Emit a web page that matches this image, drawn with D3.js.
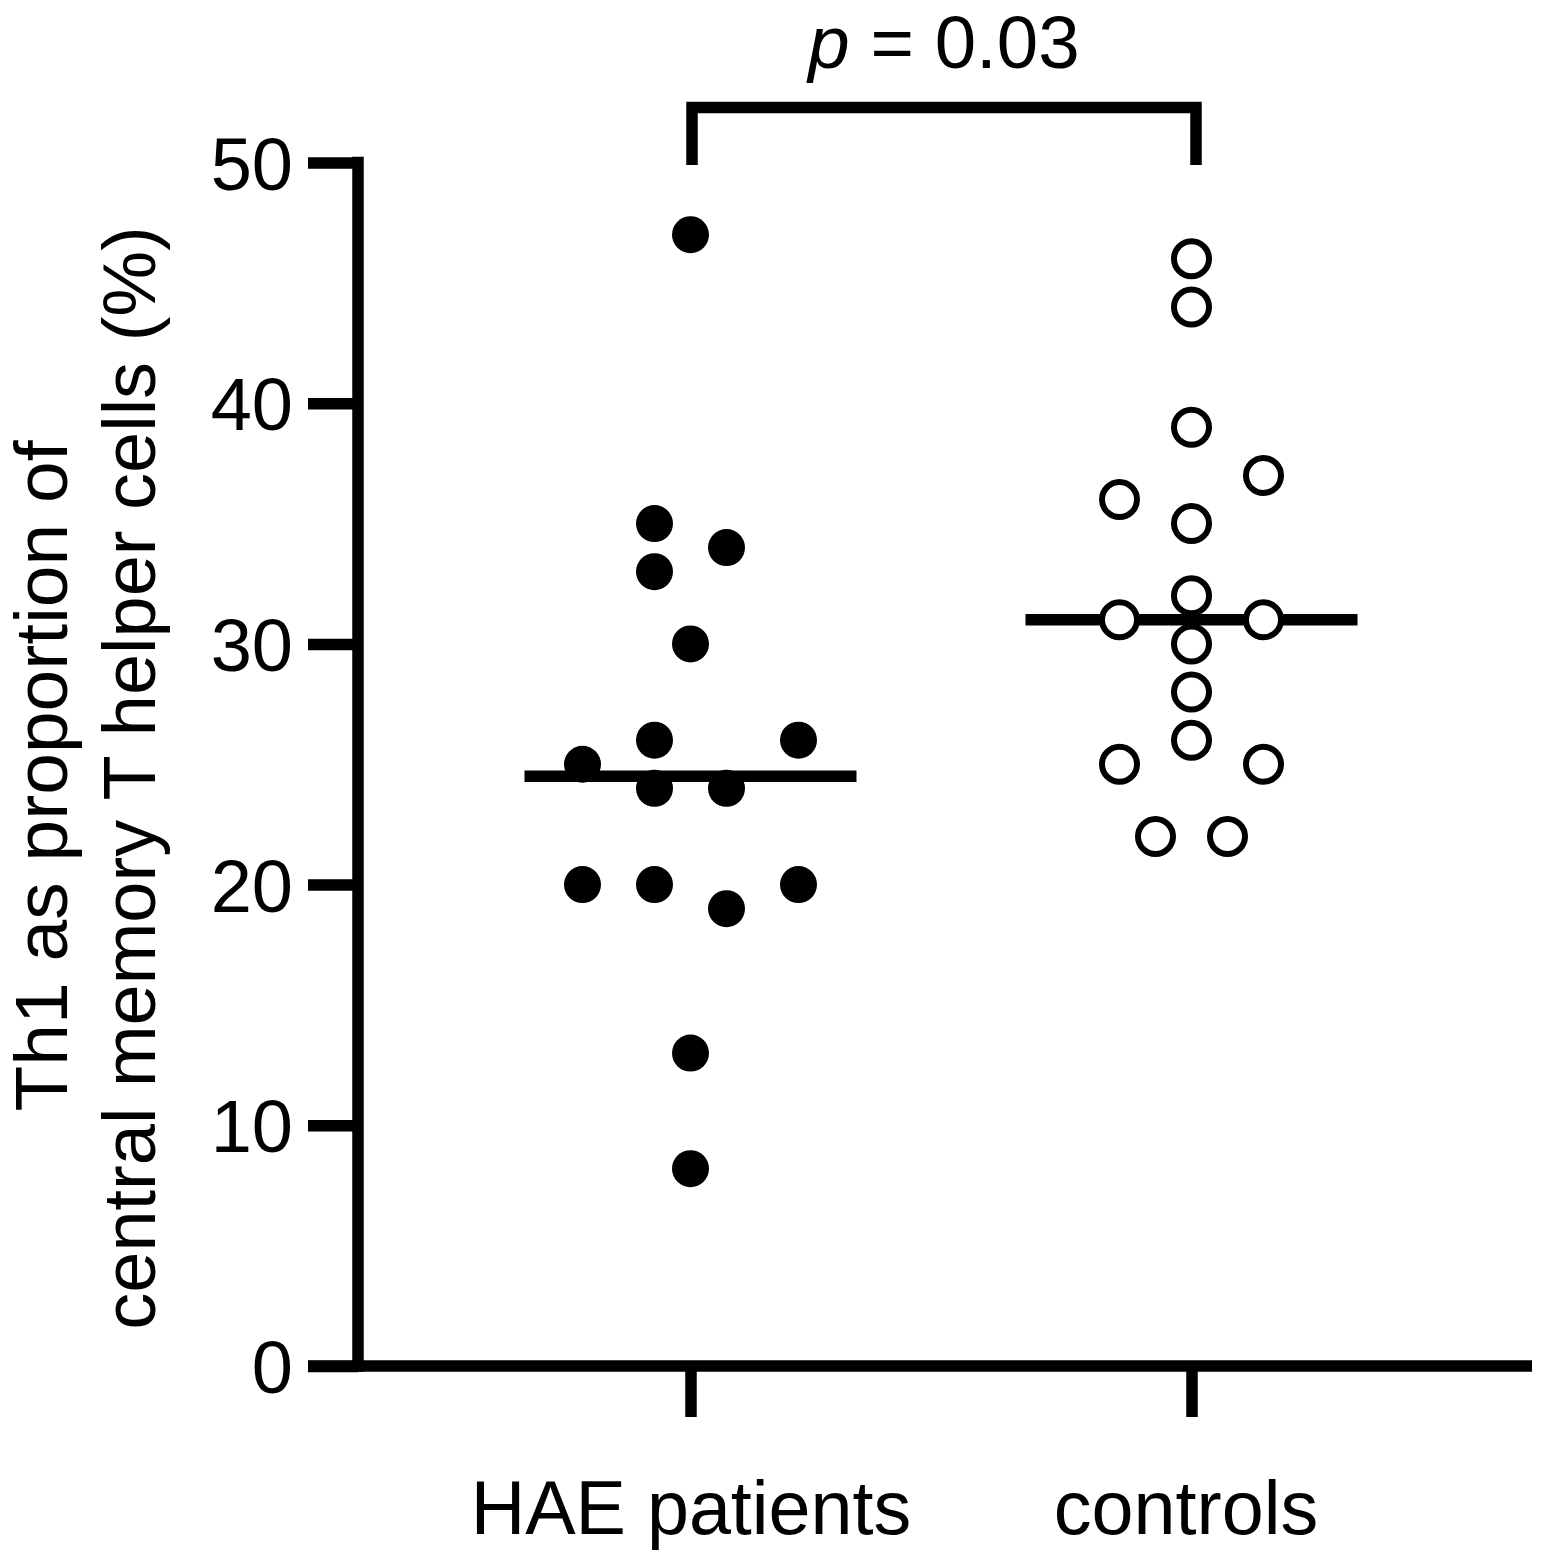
<!DOCTYPE html>
<html>
<head>
<meta charset="utf-8">
<script src="https://cdn.jsdelivr.net/npm/d3@7"></script>
<style>
  body { margin: 0; background: #fff; }
  text { font-family: "Liberation Sans", Arial, sans-serif; fill: #000; }
</style>
</head>
<body>
<div id="chart-area"></div>
<script>
// DATA
let groups = ["HAE patients", "controls"]
let haeValues = [47, 35, 34, 33, 30, 26, 26, 25, 24, 24, 20, 20, 20, 19, 13, 8.2]
// side-by-side column of each point, in half-symbol steps
let haeColumn = [0, -1, 1, -1, 0, -1, 3, -3, -1, 1, -3, -1, 3, 1, 0, 0]
let controlValues = [46, 44, 39, 37, 36, 35, 32, 31, 31, 30, 28, 26, 25, 25, 22, 22]
let controlColumn = [0, 0, 0, 2, -2, 0, 0, -2, 2, 0, 0, 0, -2, 2, -1, 1]
let yTicks = [0, 10, 20, 30, 40, 50]
let pLabel = "0.03"

const W = 1544, H = 1560
const lw = 11.5

let svg = d3.select("#chart-area").append("svg")
            .attr("width", W)
            .attr("height", H)

svg.append("rect").attr("width", W).attr("height", H).attr("fill", "#fff")

let y = d3.scaleLinear().domain([0, 50]).range([1366, 162.5])
let x = d3.scalePoint().domain(groups).range([690.5, 1191.5])
let col = d3.scaleLinear().domain([0, 1]).range([0, 36])

// y axis
let yAxis = svg.append("g")
    .attr("transform", "translate(358,0)")
    .call(d3.axisLeft(y).tickValues(yTicks).tickSize(50).tickSizeOuter(0).tickPadding(15))
yAxis.select(".domain").remove()
yAxis.selectAll(".tick line").attr("stroke", "#000").attr("stroke-width", lw)
yAxis.selectAll(".tick text")
    .attr("font-size", 74)
    .attr("dy", "0.36em")
    .attr("fill", "#000")

svg.append("line")
    .attr("x1", 358).attr("x2", 358)
    .attr("y1", y(50) - lw / 2).attr("y2", y(0) + lw / 2)
    .attr("stroke", "#000").attr("stroke-width", lw)

// x axis
svg.append("line")
    .attr("x1", 308).attr("x2", 1532)
    .attr("y1", y(0)).attr("y2", y(0))
    .attr("stroke", "#000").attr("stroke-width", lw)

let xAxis = svg.append("g")
    .attr("transform", "translate(0," + y(0) + ")")
    .call(d3.axisBottom(x).tickSize(51).tickSizeOuter(0).tickPadding(63))
xAxis.select(".domain").remove()
xAxis.selectAll(".tick line").attr("stroke", "#000").attr("stroke-width", lw)
xAxis.selectAll(".tick text")
    .attr("font-size", 75.5)
    .attr("dy", "0.71em")
    .attr("dx", (d, i) => i == 1 ? -6 : 0)
    .attr("fill", "#000")

// axis title, two lines
let title = svg.append("g").attr("transform", "rotate(-90)")
title.append("text")
    .attr("x", -776).attr("y", 67)
    .attr("text-anchor", "middle").attr("font-size", 75)
    .text("Th1 as proportion of")
title.append("text")
    .attr("x", -778).attr("y", 155)
    .attr("text-anchor", "middle").attr("font-size", 74)
    .text("central memory T helper cells (%)")

// medians
let series = [
  { group: groups[0], values: haeValues, cols: haeColumn, filled: true },
  { group: groups[1], values: controlValues, cols: controlColumn, filled: false }
]

svg.selectAll(".median")
    .data(series)
    .enter()
    .append("line")
    .attr("class", "median")
    .attr("x1", d => x(d.group) - 166)
    .attr("x2", d => x(d.group) + 166)
    .attr("y1", d => y(d3.median(d.values)))
    .attr("y2", d => y(d3.median(d.values)))
    .attr("stroke", "#000")
    .attr("stroke-width", lw)

// points
series.forEach(s => {
  let pts = s.values.map((v, i) => ({ v: v, c: s.cols[i] }))
  svg.selectAll(null)
      .data(pts)
      .enter()
      .append("circle")
      .attr("cx", d => x(s.group) + col(d.c))
      .attr("cy", d => y(d.v))
      .attr("r", s.filled ? 18.5 : 17.5)
      .attr("fill", s.filled ? "#000" : "#fff")
      .attr("stroke", s.filled ? "none" : "#000")
      .attr("stroke-width", 6)
})

// significance bracket
let bx1 = x(groups[0]) + 1.5, bx2 = x(groups[1]) + 4.5
svg.append("path")
    .attr("d", "M" + bx1 + "," + 165 + "V" + 107.5 + "H" + bx2 + "V" + 165)
    .attr("fill", "none")
    .attr("stroke", "#000")
    .attr("stroke-width", lw)
    .attr("stroke-linejoin", "miter")

let pt = svg.append("text")
    .attr("x", (bx1 + bx2) / 2).attr("y", 68)
    .attr("text-anchor", "middle").attr("font-size", 74.5)
pt.append("tspan").attr("font-style", "italic").text("p")
pt.append("tspan").text(" = " + pLabel)
</script>
</body>
</html>
